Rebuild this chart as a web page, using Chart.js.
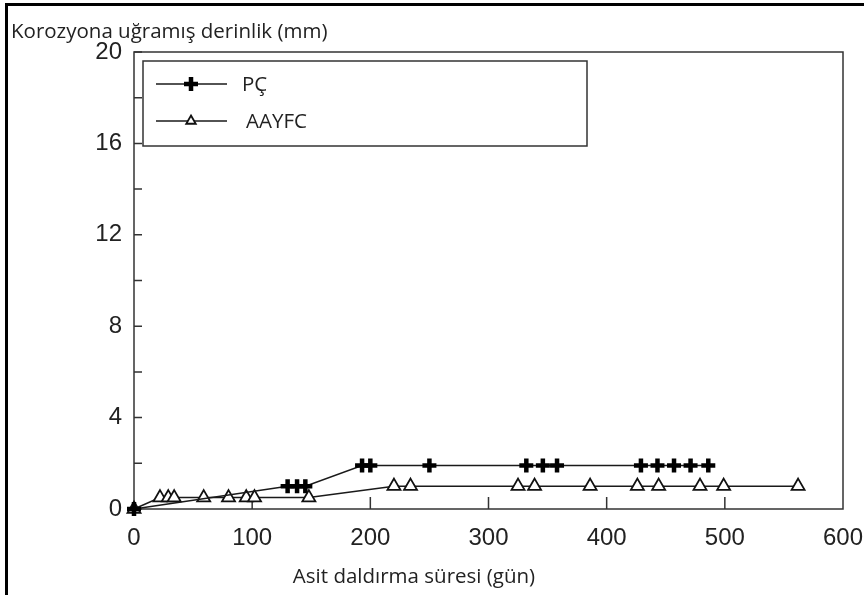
<!DOCTYPE html>
<html>
<head>
<meta charset="utf-8">
<script src="https://cdn.jsdelivr.net/npm/chart.js@4.4.0/dist/chart.umd.min.js"></script>
<style>
  html, body { margin: 0; padding: 0; background: #fff; }
  #wrap { position: relative; width: 864px; height: 595px; overflow: hidden; }
  #wrap canvas { position: absolute; left: 0; top: 0; }
  #frame {
    position: absolute; left: 5px; top: 3px; width: 900px; height: 700px;
    border-left: 3px solid #000; border-top: 3px solid #000; pointer-events: none;
  }
</style>
</head>
<body>
<div id="wrap">
  <canvas id="chart" width="864" height="595"></canvas>
  <div id="frame"></div>
</div>
<script>
// PÇ series (days, depth in mm)
const pcDays = [0, 130, 138, 145, 193, 200, 250, 332, 346, 358, 429, 443, 457, 471, 486];
const pcDepth = [0, 1, 1, 1, 1.9, 1.9, 1.9, 1.9, 1.9, 1.9, 1.9, 1.9, 1.9, 1.9, 1.9];

// AAYFC series
const aaDays = [0, 22, 29, 34, 59, 80, 95, 102, 148, 220, 234, 325, 339, 386, 426, 444, 479, 499, 562];
const aaDepth = [0, 0.5, 0.5, 0.5, 0.5, 0.5, 0.5, 0.5, 0.5, 1, 1, 1, 1, 1, 1, 1, 1, 1, 1];

const xTicks = [0, 100, 200, 300, 400, 500, 600];
const yTickLabels = [0, 4, 8, 12, 16, 20];

const yTitle = 'Korozyona uğramış derinlik (mm)';
const xTitle = 'Asit daldırma süresi (gün)';

const textFont = '"Open Sans", "Noto Sans", sans-serif';
const tickFont = '"Liberation Sans", Arial, sans-serif';

const pcStyle = { pointStyle: 'cross', radius: 7, borderWidth: 4.5, fill: '#000', stroke: '#000' };
const aaStyle = { pointStyle: 'triangle', radius: 7.5, borderWidth: 1.8, fill: '#fff', stroke: '#111' };

function toPoints(xs, ys) {
  return xs.map((x, i) => ({ x: x, y: ys[i] }));
}

/**
 * Frame, inward ticks, titles and the boxed legend.
 */
const decorations = {
  id: 'decorations',
  beforeDatasetsDraw(chart) {
    const { ctx, chartArea: a, scales } = chart;
    ctx.save();
    ctx.strokeStyle = '#333';
    ctx.lineWidth = 1.5;
    ctx.strokeRect(a.left, a.top, a.right - a.left, a.bottom - a.top);

    ctx.beginPath();
    scales.y.ticks.forEach(t => {
      const py = scales.y.getPixelForValue(t.value);
      ctx.moveTo(a.left, py);
      ctx.lineTo(a.left + 8, py);
    });
    scales.x.ticks.forEach(t => {
      if (t.value === 0 || t.value === 600) return;
      const px = scales.x.getPixelForValue(t.value);
      ctx.moveTo(px, a.bottom);
      ctx.lineTo(px, a.bottom - 12);
    });
    ctx.stroke();

    ctx.fillStyle = '#222';
    ctx.font = '20.5px ' + textFont;
    ctx.textBaseline = 'middle';
    ctx.textAlign = 'left';
    ctx.fillText(yTitle, 11, 32);
    ctx.textAlign = 'center';
    ctx.fillText(xTitle, 414, 577);
    ctx.restore();
  },
  afterDatasetsDraw(chart) {
    const ctx = chart.ctx;
    ctx.save();
    ctx.strokeStyle = '#333';
    ctx.lineWidth = 1.5;
    ctx.fillStyle = '#fff';
    ctx.fillRect(143, 61, 444, 85);
    ctx.strokeRect(143, 61, 444, 85);

    const rows = [
      { label: 'PÇ', y: 84, style: pcStyle, textX: 242, size: 7 },
      { label: 'AAYFC', y: 121, style: aaStyle, textX: 246, size: 5.5 }
    ];
    rows.forEach(r => {
      ctx.strokeStyle = '#1a1a1a';
      ctx.lineWidth = 1.5;
      ctx.beginPath();
      ctx.moveTo(156, r.y);
      ctx.lineTo(227, r.y);
      ctx.stroke();
      ctx.fillStyle = r.style.fill;
      ctx.strokeStyle = r.style.stroke;
      ctx.lineWidth = r.style.borderWidth;
      Chart.helpers.drawPoint(ctx, {
        pointStyle: r.style.pointStyle,
        radius: r.size,
        rotation: 0,
        borderWidth: r.style.borderWidth
      }, 191, r.y);
      ctx.fillStyle = '#222';
      ctx.font = '20.5px ' + textFont;
      ctx.textAlign = 'left';
      ctx.textBaseline = 'middle';
      ctx.fillText(r.label, r.textX, r.y + 1);
    });
    ctx.restore();
  }
};

new Chart(document.getElementById('chart'), {
  type: 'scatter',
  data: {
    datasets: [
      {
        label: 'PÇ',
        data: toPoints(pcDays, pcDepth),
        showLine: true,
        borderColor: '#1a1a1a',
        borderWidth: 1.5,
        pointStyle: pcStyle.pointStyle,
        pointRadius: pcStyle.radius,
        pointBorderWidth: pcStyle.borderWidth,
        pointBackgroundColor: pcStyle.fill,
        pointBorderColor: pcStyle.stroke,
        clip: false
      },
      {
        label: 'AAYFC',
        data: toPoints(aaDays, aaDepth),
        showLine: true,
        borderColor: '#1a1a1a',
        borderWidth: 1.5,
        pointStyle: aaStyle.pointStyle,
        pointRadius: aaStyle.radius,
        pointBorderWidth: aaStyle.borderWidth,
        pointBackgroundColor: aaStyle.fill,
        pointBorderColor: aaStyle.stroke,
        clip: false
      }
    ]
  },
  options: {
    responsive: false,
    animation: false,
    devicePixelRatio: 1,
    layout: { padding: { left: 0, right: 21, top: 52, bottom: 0 } },
    plugins: {
      legend: { display: false },
      tooltip: { enabled: false }
    },
    scales: {
      x: {
        type: 'linear',
        min: xTicks[0],
        max: xTicks[xTicks.length - 1],
        afterBuildTicks: s => { s.ticks = xTicks.map(v => ({ value: v })); },
        ticks: {
          color: '#222',
          font: { family: tickFont, size: 24 },
          padding: 15,
          maxRotation: 0,
          autoSkip: false
        },
        grid: { display: false, drawTicks: false },
        border: { display: false },
        afterFit: s => {
          s.height = 86;
          s.paddingLeft = 0;
          s.paddingRight = 0;
        }
      },
      y: {
        min: 0,
        max: 20,
        ticks: {
          stepSize: 2,
          autoSkip: false,
          color: '#222',
          font: { family: tickFont, size: 24 },
          padding: 12,
          callback: v => yTickLabels.includes(v) ? String(v) : ''
        },
        grid: { display: false, drawTicks: false },
        border: { display: false },
        afterFit: s => {
          s.width = 134;
          s.paddingTop = 0;
          s.paddingBottom = 0;
        }
      }
    }
  },
  plugins: [decorations]
});
</script>
</body>
</html>
